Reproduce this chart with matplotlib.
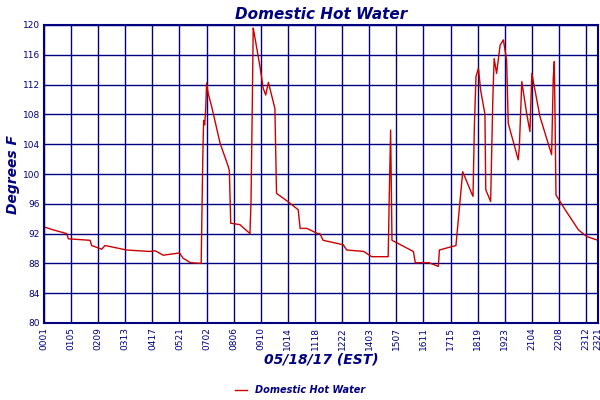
import numpy as np
import matplotlib.pyplot as plt

# x in chart-grid units (one unit per labelled gridline), temperature in deg F
x_pos = [0, 0.34, 0.84, 0.9, 1.7, 1.76, 2.13, 2.25, 3.05, 3.9, 4.1, 4.4, 5.0, 5.13, 5.4, 5.8,
         5.82, 5.86, 5.89, 5.93, 5.97, 6.0, 6.06, 6.19, 6.5, 6.8, 6.84, 6.89, 7.23, 7.6, 7.64,
         7.69, 7.72, 7.75, 7.97, 8.09, 8.18, 8.28, 8.52, 8.58, 9.0, 9.38, 9.45, 9.7, 10.1,
         10.18, 10.3, 11.04, 11.17, 11.8, 12.09, 12.7, 12.74, 12.79, 12.84, 13.63, 13.7, 14.2,
         14.55, 14.59, 15.1, 15.2, 15.45, 15.78, 15.83, 15.88, 15.94, 16.03, 16.11, 16.27,
         16.3, 16.48, 16.56, 16.61, 16.7, 16.83, 16.95, 17.07, 17.13, 17.5, 17.54, 17.63,
         17.81, 17.93, 18.0, 18.3, 18.73, 18.79, 18.83, 18.86, 18.89, 19.23, 19.72, 20.03, 20.44]
temps = [92.9, 92.5, 92.0, 91.3, 91.1, 90.4, 89.9, 90.4, 89.8, 89.6, 89.7, 89.1, 89.4, 88.7, 88.1, 88.0,
         92.8, 102.3, 107.2, 106.6, 109.0, 112.2, 110.8, 109.0, 104.1, 101.0, 100.4, 93.4, 93.2, 92.0, 96.5,
         110.4, 119.6, 119.0, 114.4, 111.5, 110.6, 112.3, 108.8, 97.4, 96.3, 95.2, 92.7, 92.7, 92.0,
         92.0, 91.1, 90.5, 89.8, 89.6, 88.9, 88.9, 97.0, 105.9, 91.1, 89.6, 88.1, 88.1,
         87.6, 89.8, 90.3, 90.4, 100.3, 97.4, 97.0, 106.4, 113.1, 114.2, 111.3, 108.0,
         97.9, 96.3, 109.9, 115.5, 113.5, 117.3, 118.0, 115.3, 106.8, 101.9, 103.7, 112.4,
         108.1, 105.7, 113.5, 107.7, 102.6, 112.8, 115.1, 106.7, 97.2, 95.2, 92.5, 91.6, 91.1]

tick_labels = ['0001', '0105', '0209', '0313', '0417', '0521', '0702', '0806', '0910', '1014',
               '1118', '1222', '1403', '1507', '1611', '1715', '1819', '1923', '2104', '2208',
               '2312', '2321']
tick_pos = list(range(21)) + [20.44]
y_ticks = np.arange(80, 121, 4)

navy = '#000080'
red = '#cc0000'

fig = plt.figure(figsize=(6, 4), dpi=100)
ax = fig.add_axes([0.0733, 0.1925, 0.9233, 0.745])
ax.plot(x_pos, temps, color=red, linewidth=1, label='Domestic Hot Water')
ax.set_xlim(0, 20.44)
ax.set_ylim(80, 120)
ax.set_xticks(tick_pos)
ax.set_xticklabels(tick_labels, rotation=90, fontsize=6.5, color=navy)
ax.set_yticks(y_ticks)
ax.set_yticklabels([str(v) for v in y_ticks], fontsize=6.5, color=navy)
ax.tick_params(length=0, pad=3)
ax.grid(color=navy, linewidth=1)
for s in ax.spines.values():
    s.set_color(navy)
    s.set_linewidth(1.5)
ax.set_title('Domestic Hot Water', fontsize=11, fontweight='bold', style='italic',
             color=navy, pad=4)
ax.set_xlabel('05/18/17 (EST)', fontsize=10, fontweight='bold', style='italic',
              color=navy, labelpad=2)
ax.set_ylabel('Degrees F', fontsize=10, fontweight='bold', style='italic',
              color=navy, labelpad=2)
leg = fig.legend(loc='lower center', bbox_to_anchor=(0.5, -0.01), frameon=False,
                 fontsize=7, handlelength=1.2)
for t in leg.get_texts():
    t.set_color(navy)
    t.set_fontweight('bold')
    t.set_style('italic')

fig.savefig('out.png', dpi=100)
